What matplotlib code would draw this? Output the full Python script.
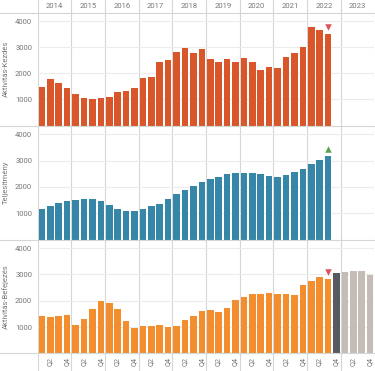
import matplotlib
matplotlib.use("Agg")
import matplotlib.pyplot as plt
import numpy as np

years = ["2014", "2015", "2016", "2017", "2018", "2019", "2020", "2021", "2022", "2023"]
tick_labels = ["Q2", "Q4"]

# quarterly values 2014Q1 .. 2022Q3
kezdes = [1480, 1790, 1630, 1455, 1225, 1035, 1010, 1035,
          1085, 1300, 1315, 1430, 1815, 1875, 2415, 2500,
          2820, 2975, 2795, 2950, 2530, 2440, 2565, 2440,
          2590, 2440, 2120, 2235, 2195, 2620, 2795, 3015,
          3780, 3665, 3510]
teljesitmeny = [1165, 1255, 1380, 1455, 1495, 1545, 1520, 1455,
                1305, 1165, 1075, 1075, 1140, 1255, 1365, 1530,
                1720, 1885, 2050, 2200, 2315, 2390, 2495, 2520,
                2530, 2520, 2470, 2420, 2390, 2445, 2555, 2695,
                2860, 3015, 3165]
befejezes = [1405, 1380, 1420, 1470, 1065, 1315, 1685, 1975,
             1925, 1685, 1230, 960, 1025, 1025, 1090, 1000,
             1050, 1255, 1420, 1620, 1645, 1580, 1735, 2040,
             2150, 2240, 2240, 2290, 2265, 2265, 2215, 2595,
             2745, 2885, 2835]
# 2022Q4 current estimate and 2023 forecast
befejezes_now = [3040]
befejezes_forecast = [3090, 3140, 3115, 2985]

c_kezdes = "#d9562b"
c_telj = "#3586a7"
c_bef = "#f28e2e"
c_now = "#565a63"
c_fc = "#c5bcb8"
c_down = "#e0505a"
c_up = "#5aa14f"
grid_c = "#ececec"
line_c = "#d6d6d6"
txt_c = "#777777"

plt.rcParams['font.family'] = ['Roboto', 'DejaVu Sans']

W, H = 375, 371
fig = plt.figure(figsize=(W / 100, H / 100), dpi=100)

x0, x1 = 37.7, 374.4
nq = len(years) * 4

def fx(px):
    return px / W

def fy(py):
    return 1 - py / H

# background axis for year lines and header
bg = fig.add_axes([fx(x0), 0, fx(x1 - x0), 1])
bg.set_xlim(-0.5, nq - 0.5)
bg.set_ylim(0, 1)
bg.axis("off")
for i in range(len(years) + 1):
    bg.axvline(4 * i - 0.5, color=line_c, lw=0.8)
for i, y in enumerate(years):
    bg.text(4 * i + 1.5, fy(6.5), y, ha="center", va="center", fontsize=5.5, color=txt_c)

# full width separators
for py in [12.5, 125.5, 239.5, 353.3]:
    fig.add_artist(plt.Line2D([0, 1], [fy(py), fy(py)], color=line_c, lw=0.8,
                              transform=fig.transFigure))

panels = [(12.5, 125.5, "Aktivitás-Kezdés"),
          (125.5, 239.5, "Teljesítmény"),
          (239.5, 353.3, "Aktivitás-Befejezés")]
axes = []
for top, bot, lab in panels:
    ax = fig.add_axes([fx(x0), fy(bot), fx(x1 - x0), (bot - top) / H])
    ax.set_facecolor("none")
    ax.set_xlim(-0.5, nq - 0.5)
    ax.set_ylim(0, 4330)
    ax.set_yticks([1000, 2000, 3000, 4000])
    ax.yaxis.grid(True, color=grid_c, lw=0.8)
    ax.set_axisbelow(True)
    for s in ax.spines.values():
        s.set_visible(False)
    ax.tick_params(axis="y", length=0, labelsize=5.5, labelcolor=txt_c, pad=4)
    ax.tick_params(axis="x", length=0)
    ax.set_xticks([])
    ax.set_ylabel(lab, fontsize=5.5, color=txt_c)
    ax.yaxis.set_label_coords(-0.085, 0.5)
    axes.append(ax)

bw = 0.78
xs = np.arange(len(kezdes))
axes[0].bar(xs, kezdes, width=bw, color=c_kezdes)
axes[0].scatter([xs[-1]], [kezdes[-1] + 260], marker="v", s=22, color=c_down, lw=0)

axes[1].bar(xs, teljesitmeny, width=bw, color=c_telj)
axes[1].scatter([xs[-1]], [teljesitmeny[-1] + 260], marker="^", s=22, color=c_up, lw=0)

axes[2].bar(xs, befejezes, width=bw, color=c_bef)
n = len(befejezes)
axes[2].bar([n], befejezes_now, width=bw, color=c_now)
axes[2].bar(np.arange(n + 1, n + 1 + len(befejezes_forecast)), befejezes_forecast, width=bw, color=c_fc)
axes[2].scatter([xs[-1]], [befejezes[-1] + 260], marker="v", s=22, color=c_down, lw=0)

qt = []
ql = []
for i in range(len(years)):
    qt += [4 * i + 1, 4 * i + 3]
    ql += tick_labels
axes[2].set_xticks(qt)
axes[2].set_xticklabels(ql, rotation=90, fontsize=5.2, color=txt_c)
axes[2].tick_params(axis="x", pad=3)

fig.savefig("out.png", dpi=100)
